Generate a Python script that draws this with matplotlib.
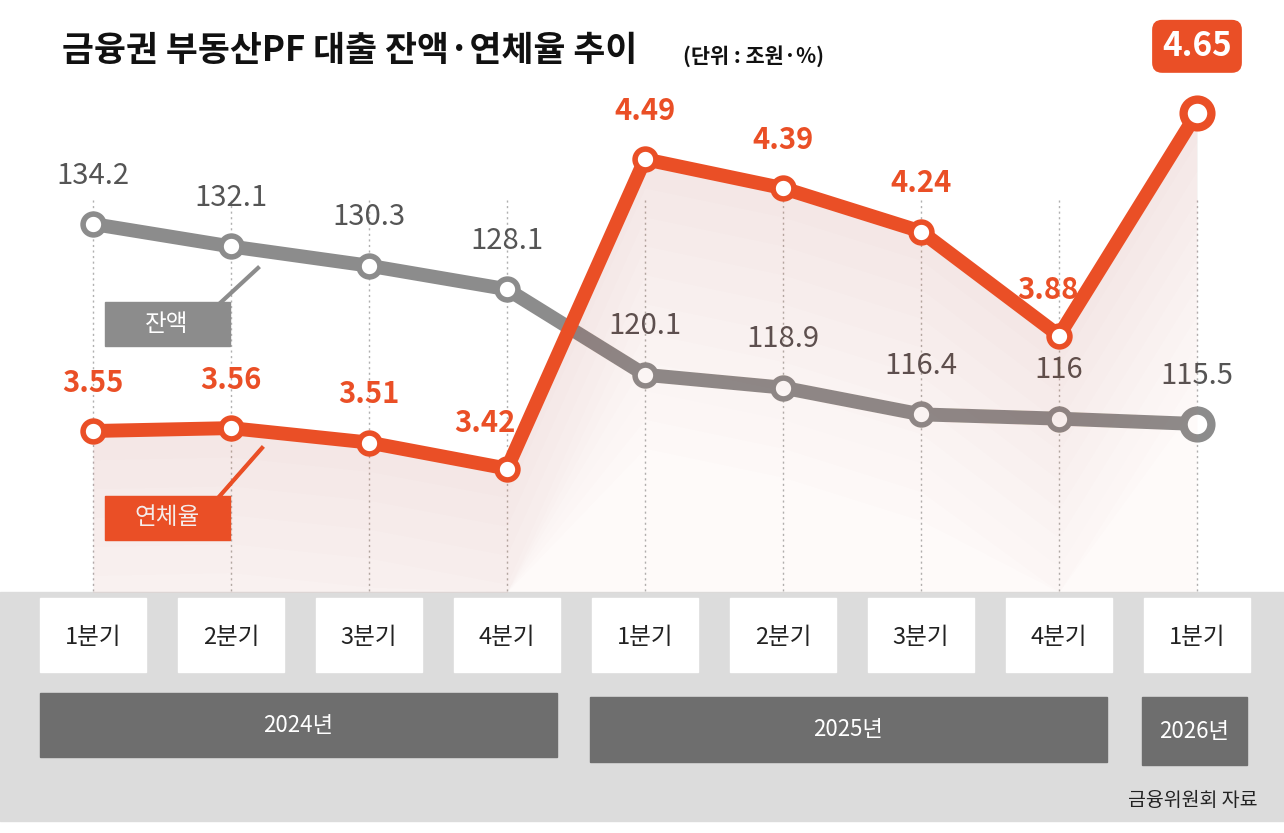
import matplotlib
matplotlib.use("Agg")
import matplotlib.pyplot as plt
from matplotlib.patches import Rectangle
import numpy as np

plt.rcParams['font.family'] = ['Noto Sans CJK KR', 'DejaVu Sans']

quarters = ["1분기", "2분기", "3분기", "4분기", "1분기", "2분기", "3분기", "4분기", "1분기"]
balance = [134.2, 132.1, 130.3, 128.1, 120.1, 118.9, 116.4, 116, 115.5]
delinq = [3.55, 3.56, 3.51, 3.42, 4.49, 4.39, 4.24, 3.88, 4.65]
years = ["2024년", "2025년", "2026년"]

GRAY = "#8c8c8c"
RED = "#ea4f26"
W, H = 1284, 833
fig = plt.figure(figsize=(W/100, H/100), dpi=100)
fig.patch.set_facecolor("white")

deco = fig.add_axes([0, 0, 1, 1], zorder=0)
deco.set_xlim(0, W); deco.set_ylim(H, 0); deco.axis("off")

x = np.arange(len(quarters))
xl = (-93/138, (W-93)/138)
axg = fig.add_axes([0, 0, 1, 1], zorder=2)
axg.set_xlim(*xl); axg.set_ylim(134.2-609/10.695, 134.2+224/10.695); axg.axis("off")
axr = fig.add_axes([0, 0, 1, 1], zorder=3)
axr.set_xlim(*xl); axr.set_ylim(3.55-402/289.1, 3.55+431/289.1); axr.axis("off")
axg.patch.set_alpha(0); axr.patch.set_alpha(0)

# faint pink fill under red line, stopping at the gray band
base = 3.55 - (592-431)/289.1
for k in range(10):
    low = [max(base, d - 0.1*(k+1)) for d in delinq]
    axr.fill_between(x, delinq, low, color=RED, alpha=0.008, lw=0, zorder=0)
axr.fill_between(x, delinq, base, color=RED, alpha=0.025, lw=0, zorder=0)

deco.add_patch(Rectangle((0, 592), W, H-592-12, color="#dcdcdc", zorder=1))
for i, q in enumerate(quarters):
    px = 93 + 138*i
    deco.plot([px, px], [200, 592], ls=(0, (1.5, 2.5)), color="#b0b0b0", lw=1, zorder=0.5)
    deco.add_patch(Rectangle((px-53, 598), 106, 74, color="white", zorder=2))
    deco.text(px, 637, q, ha="center", va="center", fontsize=17, color="#222", zorder=3)
for (x0, x1, y0, y1), yl in zip([(40, 557, 693, 757), (590, 1107, 697, 762), (1142, 1247, 697, 765)], years):
    deco.add_patch(Rectangle((x0, y0), x1-x0, y1-y0, color="#6e6e6e", zorder=2))
    deco.text((x0+x1)/2, (y0+y1)/2, yl, ha="center", va="center", fontsize=16, color="white", zorder=3)
deco.text(1258, 800, "금융위원회 자료", ha="right", va="center", fontsize=14, color="#222")

deco.text(62, 50, "금융권 부동산PF 대출 잔액·연체율 추이", ha="left", va="center",
          fontsize=25, fontweight="bold", color="#111")
deco.text(683, 56, "(단위 : 조원·%)", ha="left", va="center", fontsize=15, fontweight="bold", color="#111")

deco.plot([258, 218, 218], [268, 305, 305], color=GRAY, lw=3, zorder=1)
deco.add_patch(Rectangle((105, 302), 125, 44, color=GRAY, zorder=2))
deco.text(167, 324, "잔액", ha="center", va="center", fontsize=17, color="white", zorder=3)
deco.plot([262, 218], [448, 498], color=RED, lw=3, zorder=1)
deco.add_patch(Rectangle((105, 496), 125, 44, color=RED, zorder=2))
deco.text(167, 518, "연체율", ha="center", va="center", fontsize=17, color="white", zorder=3)

axg.plot(x, balance, color=GRAY, lw=10, solid_capstyle="round", marker="o", ms=15,
         mfc="white", mec=GRAY, mew=4)
axr.plot(x, delinq, color=RED, lw=10, solid_capstyle="round", marker="o", ms=15,
         mfc="white", mec=RED, mew=4)
axg.plot(x[-1], balance[-1], marker="o", ms=20, mfc="white", mec=GRAY, mew=6)
axr.plot(x[-1], delinq[-1], marker="o", ms=20, mfc="white", mec=RED, mew=6)

for i, v in enumerate(balance):
    axg.annotate(f"{v:g}", (i, v), xytext=(0, 24), textcoords="offset points",
                 ha="center", va="bottom", fontsize=21, color="#555", fontweight="medium", zorder=5)
offs = {3: (-16, 22), 7: (-8, 22)}
for i, v in enumerate(delinq[:-1]):
    axr.annotate(f"{v:.2f}", (i, v), xytext=offs.get(i, (0, 24)), textcoords="offset points",
                 ha="center", va="bottom", fontsize=21, color=RED, fontweight="bold")
axr.annotate(f"{delinq[-1]:.2f}", (x[-1], delinq[-1]), xytext=(0, 48), textcoords="offset points",
             ha="center", va="center", fontsize=24, color="white", fontweight="bold",
             bbox=dict(boxstyle="round,pad=0.3,rounding_size=0.3", fc=RED, ec="none"))

fig.savefig("out.png", dpi=100)
